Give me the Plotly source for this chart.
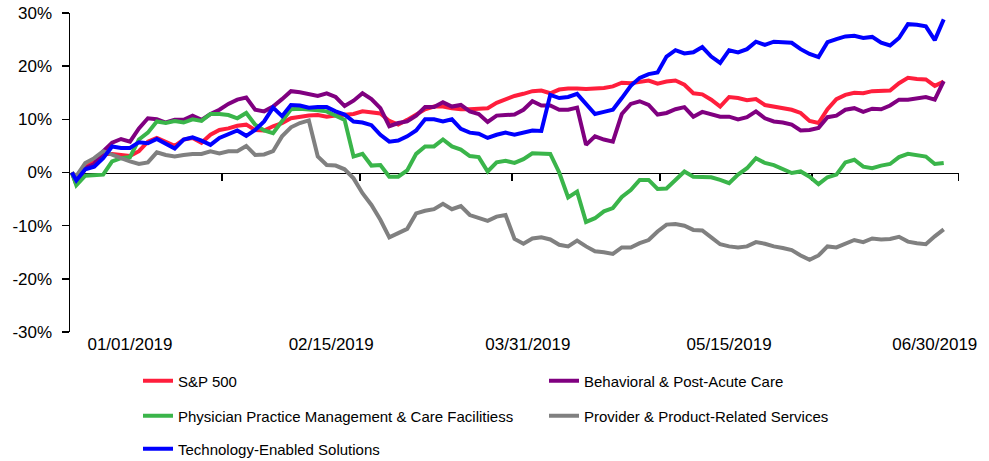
import pandas as pd
import plotly.graph_objects as go

# Dates: start point then every 2 calendar days
start_date = ["2018-12-19"]
grid_dates = [d.strftime("%Y-%m-%d") for d in pd.date_range("2018-12-20", periods=98, freq="2D")]
dates = start_date + grid_dates

sp500 = [0.0,
    -1.9, 1.0, 2.1, 3.5, 3.5, 3.3, 3.1, 4.0, 5.8, 6.5,
    5.8, 5.0, 6.2, 6.5, 5.6, 7.1, 8.0, 8.3, 8.8, 9.0,
    8.0, 7.9, 8.7, 9.3, 10.2, 10.5, 10.7, 10.8, 10.5, 10.7,
    10.8, 11.0, 11.5, 11.3, 11.1, 9.7, 9.0, 9.9, 11.0, 11.9,
    12.4, 12.4, 12.1, 11.9, 11.9, 12.0, 12.1, 13.1, 13.8, 14.4,
    14.8, 15.3, 15.4, 14.9, 15.6, 15.8, 15.8, 15.7, 15.8, 15.9,
    16.2, 16.9, 16.8, 17.1, 17.3, 16.7, 17.1, 17.3, 16.5, 14.9,
    14.7, 13.7, 12.4, 14.2, 14.0, 13.6, 13.8, 12.7, 12.4, 12.1,
    11.8, 11.2, 9.7, 9.3, 11.9, 13.8, 14.6, 15.0, 14.9, 15.3,
    15.3, 15.4, 16.8, 17.8, 17.6, 17.5, 16.3, 17.1]

behavioral = [0.0,
    -2.2, 0.8, 1.6, 4.0, 5.6, 6.3, 5.8, 8.3, 10.2, 10.0,
    9.4, 9.9, 9.9, 10.7, 9.9, 11.0, 11.8, 12.9, 13.7, 14.1,
    11.8, 11.5, 12.4, 13.8, 15.3, 15.1, 14.8, 14.4, 14.9, 14.2,
    12.5, 13.5, 14.9, 13.8, 12.1, 8.7, 9.3, 9.6, 10.7, 12.3,
    12.3, 13.2, 12.4, 12.7, 11.5, 11.0, 9.5, 10.7, 10.8, 10.9,
    11.8, 13.4, 12.6, 12.6, 11.8, 11.8, 12.2, 5.2, 6.8, 6.2,
    5.8, 11.0, 12.9, 13.4, 12.7, 10.9, 11.2, 11.9, 12.3, 10.5,
    11.4, 10.9, 10.5, 10.5, 10.0, 10.4, 11.5, 10.2, 9.6, 9.4,
    9.0, 7.9, 8.0, 8.4, 10.4, 10.7, 11.8, 12.1, 11.4, 12.0,
    11.9, 12.6, 13.7, 13.7, 14.0, 14.2, 13.7, 17.2]

physician = [0.0,
    -2.4, -0.6, -0.5, -0.4, 2.1, 2.7, 2.9, 6.2, 7.5, 9.6,
    9.3, 9.7, 9.4, 10.0, 9.7, 11.0, 11.0, 10.8, 10.2, 11.2,
    9.0, 7.9, 7.4, 9.8, 11.9, 12.0, 11.9, 11.7, 11.5, 10.7,
    9.9, 3.0, 3.5, 1.3, 1.4, -0.8, -0.8, 0.4, 3.5, 4.9,
    4.9, 6.2, 4.9, 4.3, 3.1, 2.9, 0.2, 1.9, 2.2, 1.8,
    2.5, 3.6, 3.6, 3.5, 0.0, -4.7, -3.6, -9.3, -8.6, -7.3,
    -6.7, -4.6, -3.3, -1.4, -1.4, -3.1, -3.0, -1.4, 0.2, -0.8,
    -0.9, -0.9, -1.4, -2.0, -0.4, 0.8, 2.7, 1.8, 1.4, 0.6,
    -0.1, 0.2, -0.8, -2.2, -0.9, -0.4, 1.9, 2.4, 1.1, 0.8,
    1.3, 1.6, 2.9, 3.5, 3.3, 3.0, 1.6, 1.8]

provider = [0.0,
    -0.7, 1.8, 2.7, 4.0, 3.3, 2.7, 2.1, 1.6, 1.9, 3.8,
    3.3, 3.0, 3.3, 3.5, 3.5, 4.0, 3.6, 4.0, 4.0, 5.0,
    3.3, 3.4, 4.0, 6.8, 8.5, 9.3, 9.8, 3.0, 1.4, 1.3,
    0.6, -1.1, -3.9, -6.1, -8.9, -12.2, -11.4, -10.6, -7.7, -7.2,
    -6.9, -5.9, -6.9, -6.3, -8.0, -8.5, -9.1, -8.3, -8.0, -12.5,
    -13.4, -12.4, -12.2, -12.6, -13.6, -13.9, -12.8, -13.9, -14.8, -15.0,
    -15.3, -14.1, -14.1, -13.3, -12.7, -11.1, -9.8, -9.7, -10.0, -10.8,
    -10.9, -12.2, -13.5, -13.9, -14.1, -13.9, -13.1, -13.4, -13.9, -14.2,
    -14.6, -15.6, -16.4, -15.6, -13.9, -14.1, -13.3, -12.7, -13.1, -12.4,
    -12.6, -12.5, -12.1, -13.0, -13.3, -13.5, -12.0, -10.7]

technology = [0.0,
    -1.5, 0.6, 1.1, 2.7, 4.9, 4.6, 4.6, 5.7, 5.5, 6.3,
    5.5, 4.5, 6.2, 6.6, 6.0, 5.2, 6.5, 7.1, 7.9, 6.9,
    8.0, 9.6, 12.2, 10.6, 12.7, 12.6, 12.2, 12.3, 12.3, 11.5,
    10.9, 9.6, 9.4, 8.9, 7.1, 5.8, 6.0, 6.8, 7.9, 10.0,
    10.0, 9.6, 10.0, 8.2, 7.5, 7.3, 6.5, 7.1, 7.5, 7.1,
    7.5, 7.9, 7.8, 14.6, 14.0, 14.2, 14.8, 13.0, 11.0, 11.4,
    11.8, 14.0, 16.3, 17.8, 18.5, 18.8, 21.8, 23.0, 22.4, 22.6,
    23.6, 21.8, 20.6, 23.0, 22.6, 23.2, 24.6, 24.0, 24.6, 24.5,
    24.4, 23.2, 22.3, 21.7, 24.5, 25.1, 25.6, 25.7, 25.3, 25.5,
    24.4, 23.9, 25.3, 27.9, 27.8, 27.5, 24.9, 28.8]

series_names = ["S&P 500", "Behavioral & Post-Acute Care",
                "Physician Practice Management & Care Facilitiess",
                "Provider & Product-Related Services", "Technology-Enabled Solutions"]
series_values = [sp500, behavioral, physician, provider, technology]
series_colors = ["#FF1E3C", "#800080", "#3AB54A", "#808080", "#0000FF"]
series_legends = ["legend", "legend", "legend2", "legend2", "legend3"]

label_dates = ["2019-01-01", "2019-02-15", "2019-03-31", "2019-05-15", "2019-06-30"]
label_text = ["01/01/2019", "02/15/2019", "03/31/2019", "05/15/2019", "06/30/2019"]
tick_mark_dates = ["2019-01-21 14:00", "2019-02-21 10:00", "2019-03-27 10:00",
                   "2019-04-29 12:00", "2019-06-02 12:00", "2019-07-05 06:00"]
x_range = ["2018-12-18 14:00", "2019-07-05 10:00"]
y_ticks = [-30, -20, -10, 0, 10, 20, 30]
y_tick_text = ["-30%", "-20%", "-10%", "0%", "10%", "20%", "30%"]

FONT = "Liberation Sans, Arial, sans-serif"

fig = go.Figure()
for name, vals, col, lg in zip(series_names, series_values, series_colors, series_legends):
    fig.add_trace(go.Scatter(x=dates, y=vals, mode="lines", name=name, legend=lg,
                             line=dict(color=col, width=4), hoverinfo="skip"))

# helper trace to activate the zero-crossing axis carrying the tick marks
fig.add_trace(go.Scatter(x=[dates[0]], y=[None], xaxis="x2", mode="lines",
                         showlegend=False, hoverinfo="skip"))

legend_common = dict(orientation="h", font=dict(family=FONT, size=15, color="#000000"),
                     entrywidth=361, entrywidthmode="pixels",
                     xref="container", yref="container", x=138 / 989, xanchor="left",
                     yanchor="middle", bgcolor="rgba(0,0,0,0)", traceorder="normal")

fig.update_layout(
    width=989, height=461,
    margin=dict(l=70, r=30, t=13, b=129, autoexpand=False),
    paper_bgcolor="white", plot_bgcolor="white",
    font=dict(family=FONT, size=17, color="#000000"),
    hovermode=False,
    xaxis=dict(type="date", range=x_range, tickvals=label_dates, ticktext=label_text,
               ticks="", showline=False, showgrid=False, zeroline=False,
               tickfont=dict(family=FONT, size=17, color="#000000")),
    xaxis2=dict(type="date", range=x_range, overlaying="x", anchor="free", position=0.5,
                side="bottom", tickvals=tick_mark_dates, showticklabels=False,
                ticks="outside", ticklen=7, tickwidth=1.5, tickcolor="#000000",
                showline=True, linecolor="#000000", linewidth=1.5,
                showgrid=False, zeroline=False, layer="below traces"),
    yaxis=dict(range=[-30, 30], tickvals=y_ticks, ticktext=y_tick_text,
               ticks="outside", ticklen=7, tickwidth=1.5, tickcolor="#000000",
               ticklabelstandoff=6,
               showline=True, linecolor="#000000", linewidth=1.5,
               showgrid=False, zeroline=False,
               tickfont=dict(family=FONT, size=17, color="#000000")),
    legend=dict(y=1 - 381 / 461, **legend_common),
    legend2=dict(y=1 - 416 / 461, **legend_common),
    legend3=dict(y=1 - 449 / 461, **legend_common),
)

fig.write_html("out.html", config={"displayModeBar": False, "staticPlot": True},
               post_script="document.body.style.margin='0';")
